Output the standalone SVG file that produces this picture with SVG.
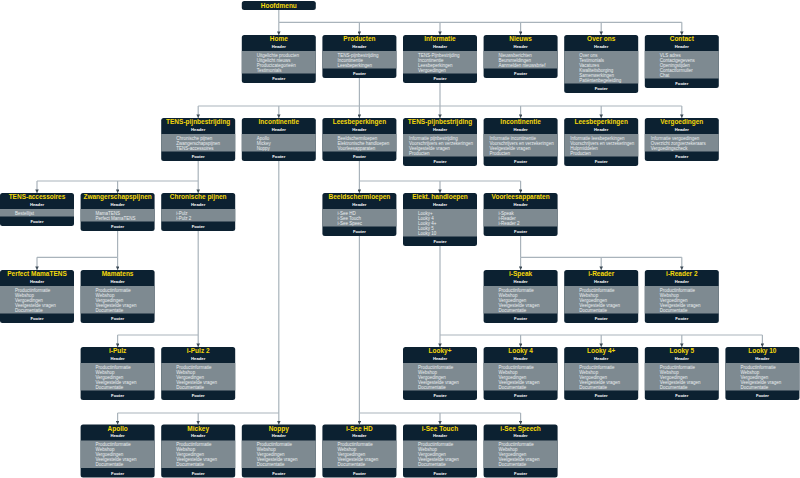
<svg xmlns="http://www.w3.org/2000/svg" width="800" height="478" viewBox="0 0 800 478">
<defs>
<marker id="ar" viewBox="0 0 6 6" refX="6" refY="3" markerWidth="3.6" markerHeight="3.6" orient="auto" markerUnits="userSpaceOnUse"><path d="M0,0 L6,3 L0,6 z" fill="#3d4b57"/></marker>
<style>
.hd{fill:#0c2131}
.bd{fill:#7e8a91}
.bl{stroke:#a3aeb4;stroke-width:0.6}
.t{font-family:"Liberation Sans",Arial,sans-serif;font-weight:bold;font-size:6.5px;fill:#f5d90a;text-anchor:middle}
.h{font-family:"Liberation Sans",Arial,sans-serif;font-weight:bold;font-size:4.2px;fill:#ffffff;text-anchor:middle}
.i{font-family:"Liberation Sans",Arial,sans-serif;font-size:4.5px;fill:#e9edef}
.c{stroke:#a9b3bb;stroke-width:1.2;fill:none}
.d{stroke:#a9b3bb;stroke-width:1.2;fill:none;marker-end:url(#ar)}
</style>
</defs>
<rect width="800" height="478" fill="#ffffff"/>

<g id="connectors">
<path class="c" d="M278.8,10 V22.3 M278.8,22.3 H681.8"/>
<path class="d" d="M278.8,22.3 V35"/><path class="d" d="M359.4,22.3 V35"/><path class="d" d="M440,22.3 V35"/><path class="d" d="M520.6,22.3 V35"/><path class="d" d="M601.2,22.3 V35"/><path class="d" d="M681.8,22.3 V35"/>
<path class="c" d="M359.4,78 V106 M440,83 V106 M198.2,106 H681.8"/>
<path class="d" d="M198.2,106 V118"/><path class="d" d="M278.8,106 V118"/><path class="d" d="M359.4,106 V118"/><path class="d" d="M440,106 V118"/><path class="d" d="M520.6,106 V118"/><path class="d" d="M601.2,106 V118"/><path class="d" d="M681.8,106 V118"/>
<path class="c" d="M198.2,161 V181 M37,181 H198.2 M359.4,161 V181 M359.4,181 H520.6"/>
<path class="d" d="M37,181 V193"/><path class="d" d="M117.6,181 V193"/><path class="d" d="M198.2,181 V193"/><path class="d" d="M359.4,181 V193"/><path class="d" d="M440,181 V193"/><path class="d" d="M520.6,181 V193"/>
<path class="c" d="M117.6,231 V257.3 M37,257.3 H117.6 M520.6,236 V257.3 M520.6,257.3 H681.8"/>
<path class="d" d="M37,257.3 V270"/><path class="d" d="M117.6,257.3 V270"/><path class="d" d="M520.6,257.3 V270"/><path class="d" d="M601.2,257.3 V270"/><path class="d" d="M681.8,257.3 V270"/>
<path class="c" d="M198.2,231 V335 M117.6,335 H198.2 M440,246 V335 M440,335 H762.4"/>
<path class="d" d="M117.6,335 V347"/><path class="d" d="M198.2,335 V347"/><path class="d" d="M440,335 V347"/><path class="d" d="M520.6,335 V347"/><path class="d" d="M601.2,335 V347"/><path class="d" d="M681.8,335 V347"/><path class="d" d="M762.4,335 V347"/>
<path class="c" d="M278.8,161 V413 M117.6,413 H278.8 M359.4,236 V413 M359.4,413 H520.6"/>
<path class="d" d="M117.6,413 V424.5"/><path class="d" d="M198.2,413 V424.5"/><path class="d" d="M278.8,413 V424.5"/><path class="d" d="M359.4,413 V424.5"/><path class="d" d="M440,413 V424.5"/><path class="d" d="M520.6,413 V424.5"/>
</g>

<g id="hoofdmenu" transform="translate(241.8,1)"><rect class="hd" width="74" height="9" rx="2.5"/><text class="t" x="37" y="6.9">Hoofdmenu</text></g>

<g id="home" transform="translate(241.8,35)"><rect class="hd" width="74" height="48" rx="2.5"/><rect class="bd" y="16" width="74" height="22.5"/><text class="t" x="37" y="6.4">Home</text><text class="h" x="37" y="12.5">Header</text><text class="i" x="15" y="21.5">Uitgelichte producten</text><text class="i" x="15" y="26.5">Uitgelicht nieuws</text><text class="i" x="15" y="31.5">Productcategorieën</text><text class="i" x="15" y="36.5">Testimonials</text><text class="h" x="37" y="45">Footer</text></g>

<g id="producten" transform="translate(322.4,35)"><rect class="hd" width="74" height="43" rx="2.5"/><rect class="bd" y="16" width="74" height="17.5"/><text class="t" x="37" y="6.4">Producten</text><text class="h" x="37" y="12.5">Header</text><text class="i" x="15" y="21.5">TENS-pijnbestrijding</text><text class="i" x="15" y="26.5">Incontinentie</text><text class="i" x="15" y="31.5">Leesbeperkingen</text><text class="h" x="37" y="40">Footer</text></g>

<g id="informatie" transform="translate(403,35)"><rect class="hd" width="74" height="48" rx="2.5"/><rect class="bd" y="16" width="74" height="22.5"/><text class="t" x="37" y="6.4">Informatie</text><text class="h" x="37" y="12.5">Header</text><text class="i" x="15" y="21.5">TENS-Pijnbestrijding</text><text class="i" x="15" y="26.5">Incontinentie</text><text class="i" x="15" y="31.5">Leesbeperkingen</text><text class="i" x="15" y="36.5">Vergoedingen</text><text class="h" x="37" y="45">Footer</text></g>

<g id="nieuws" transform="translate(483.6,35)"><rect class="hd" width="74" height="43" rx="2.5"/><rect class="bd" y="16" width="74" height="17.5"/><text class="t" x="37" y="6.4">Nieuws</text><text class="h" x="37" y="12.5">Header</text><text class="i" x="15" y="21.5">Nieuwsberichten</text><text class="i" x="15" y="26.5">Beursmeldingen</text><text class="i" x="15" y="31.5">Aanmelden nieuwsbrief</text><text class="h" x="37" y="40">Footer</text></g>

<g id="over-ons" transform="translate(564.2,35)"><rect class="hd" width="74" height="58" rx="2.5"/><rect class="bd" y="16" width="74" height="32.5"/><text class="t" x="37" y="6.4">Over ons</text><text class="h" x="37" y="12.5">Header</text><text class="i" x="15" y="21.5">Over ons</text><text class="i" x="15" y="26.5">Testimonials</text><text class="i" x="15" y="31.5">Vacatures</text><text class="i" x="15" y="36.5">Kwaliteitsborging</text><text class="i" x="15" y="41.5">Samenwerkingen</text><text class="i" x="15" y="46.5">Patiëntenbegeleiding</text><text class="h" x="37" y="55">Footer</text></g>

<g id="contact" transform="translate(644.8,35)"><rect class="hd" width="74" height="53" rx="2.5"/><rect class="bd" y="16" width="74" height="27.5"/><text class="t" x="37" y="6.4">Contact</text><text class="h" x="37" y="12.5">Header</text><text class="i" x="15" y="21.5">VLS adres</text><text class="i" x="15" y="26.5">Contactgegevens</text><text class="i" x="15" y="31.5">Openingstijden</text><text class="i" x="15" y="36.5">Contactformulier</text><text class="i" x="15" y="41.5">Chat</text><text class="h" x="37" y="50">Footer</text></g>

<g id="tens-pijnbestrijding-1" transform="translate(161.2,118)"><rect class="hd" width="74" height="43" rx="2.5"/><rect class="bd" y="16" width="74" height="17.5"/><text class="t" x="37" y="6.4">TENS-pijnbestrijding</text><text class="h" x="37" y="12.5">Header</text><text class="i" x="15" y="21.5">Chronische pijnen</text><text class="i" x="15" y="26.5">Zwangerschapspijnen</text><text class="i" x="15" y="31.5">TENS-accessoires</text><text class="h" x="37" y="40">Footer</text></g>

<g id="incontinentie-1" transform="translate(241.8,118)"><rect class="hd" width="74" height="43" rx="2.5"/><rect class="bd" y="16" width="74" height="17.5"/><text class="t" x="37" y="6.4">Incontinentie</text><text class="h" x="37" y="12.5">Header</text><text class="i" x="15" y="21.5">Apollo</text><text class="i" x="15" y="26.5">Mickey</text><text class="i" x="15" y="31.5">Noppy</text><text class="h" x="37" y="40">Footer</text></g>

<g id="leesbeperkingen-1" transform="translate(322.4,118)"><rect class="hd" width="74" height="43" rx="2.5"/><rect class="bd" y="16" width="74" height="17.5"/><text class="t" x="37" y="6.4">Leesbeperkingen</text><text class="h" x="37" y="12.5">Header</text><text class="i" x="15" y="21.5">Beeldschermloepen</text><text class="i" x="15" y="26.5">Elektronische handloepen</text><text class="i" x="15" y="31.5">Voorleesapparaten</text><text class="h" x="37" y="40">Footer</text></g>

<g id="tens-pijnbestrijding-2" transform="translate(403,118)"><rect class="hd" width="74" height="48" rx="2.5"/><rect class="bd" y="16" width="74" height="22.5"/><text class="t" x="37" y="6.4">TENS-pijnbestrijding</text><text class="h" x="37" y="12.5">Header</text><text class="i" x="6" y="21.5">Informatie pijnbestrijding</text><text class="i" x="6" y="26.5">Voorschrijvers en verzekeringen</text><text class="i" x="6" y="31.5">Veelgestelde vragen</text><text class="i" x="6" y="36.5">Producten</text><text class="h" x="37" y="45">Footer</text></g>

<g id="incontinentie-2" transform="translate(483.6,118)"><rect class="hd" width="74" height="48" rx="2.5"/><rect class="bd" y="16" width="74" height="22.5"/><text class="t" x="37" y="6.4">Incontinentie</text><text class="h" x="37" y="12.5">Header</text><text class="i" x="6" y="21.5">Informatie incontinentie</text><text class="i" x="6" y="26.5">Voorschrijvers en verzekeringen</text><text class="i" x="6" y="31.5">Veelgestelde vragen</text><text class="i" x="6" y="36.5">Producten</text><text class="h" x="37" y="45">Footer</text></g>

<g id="leesbeperkingen-2" transform="translate(564.2,118)"><rect class="hd" width="74" height="48" rx="2.5"/><rect class="bd" y="16" width="74" height="22.5"/><text class="t" x="37" y="6.4">Leesbeperkingen</text><text class="h" x="37" y="12.5">Header</text><text class="i" x="6" y="21.5">Informatie leesbeperkingen</text><text class="i" x="6" y="26.5">Voorschrijvers en verzekeringen</text><text class="i" x="6" y="31.5">Hulpmiddelen</text><text class="i" x="6" y="36.5">Producten</text><text class="h" x="37" y="45">Footer</text></g>

<g id="vergoedingen" transform="translate(644.8,118)"><rect class="hd" width="74" height="43" rx="2.5"/><rect class="bd" y="16" width="74" height="17.5"/><text class="t" x="37" y="6.4">Vergoedingen</text><text class="h" x="37" y="12.5">Header</text><text class="i" x="6" y="21.5">Informatie vergoedingen</text><text class="i" x="6" y="26.5">Overzicht zorgverzekeraars</text><text class="i" x="6" y="31.5">Vergoedingscheck</text><text class="h" x="37" y="40">Footer</text></g>

<g id="tens-accessoires" transform="translate(0,193)"><rect class="hd" width="74" height="33" rx="2.5"/><rect class="bd" y="16" width="74" height="7.5"/><text class="t" x="37" y="6.4">TENS-accessoires</text><text class="h" x="37" y="12.5">Header</text><text class="i" x="15" y="21.5">Bestellijst</text><text class="h" x="37" y="30">Footer</text></g>

<g id="zwangerschapspijnen" transform="translate(80.6,193)"><rect class="hd" width="74" height="38" rx="2.5"/><rect class="bd" y="16" width="74" height="12.5"/><text class="t" x="37" y="6.4">Zwangerschapspijnen</text><text class="h" x="37" y="12.5">Header</text><text class="i" x="15" y="21.5">MamaTENS</text><text class="i" x="15" y="26.5">Perfect MamaTENS</text><text class="h" x="37" y="35">Footer</text></g>

<g id="chronische-pijnen" transform="translate(161.2,193)"><rect class="hd" width="74" height="38" rx="2.5"/><rect class="bd" y="16" width="74" height="12.5"/><text class="t" x="37" y="6.4">Chronische pijnen</text><text class="h" x="37" y="12.5">Header</text><text class="i" x="15" y="21.5">i-Pulz</text><text class="i" x="15" y="26.5">i-Pulz 2</text><text class="h" x="37" y="35">Footer</text></g>

<g id="beeldschermloepen" transform="translate(322.4,193)"><rect class="hd" width="74" height="43" rx="2.5"/><rect class="bd" y="16" width="74" height="17.5"/><text class="t" x="37" y="6.4">Beeldschermloepen</text><text class="h" x="37" y="12.5">Header</text><text class="i" x="15" y="21.5">i-See HD</text><text class="i" x="15" y="26.5">i-See Touch</text><text class="i" x="15" y="31.5">i-See Speec</text><text class="h" x="37" y="40">Footer</text></g>

<g id="elekt-handloepen" transform="translate(403,193)"><rect class="hd" width="74" height="53" rx="2.5"/><rect class="bd" y="16" width="74" height="27.5"/><text class="t" x="37" y="6.4">Elekt. handloepen</text><text class="h" x="37" y="12.5">Header</text><text class="i" x="15" y="21.5">Looky+</text><text class="i" x="15" y="26.5">Looky 4</text><text class="i" x="15" y="31.5">Looky 4+</text><text class="i" x="15" y="36.5">Looky 5</text><text class="i" x="15" y="41.5">Looky 10</text><text class="h" x="37" y="50">Footer</text></g>

<g id="voorleesapparaten" transform="translate(483.6,193)"><rect class="hd" width="74" height="43" rx="2.5"/><rect class="bd" y="16" width="74" height="17.5"/><text class="t" x="37" y="6.4">Voorleesapparaten</text><text class="h" x="37" y="12.5">Header</text><text class="i" x="15" y="21.5">i-Speak</text><text class="i" x="15" y="26.5">i-Reader</text><text class="i" x="15" y="31.5">i-Reader 2</text><text class="h" x="37" y="40">Footer</text></g>

<g id="perfect-mamatens" transform="translate(0,270)"><rect class="hd" width="74" height="53" rx="2.5"/><rect class="bd" y="16" width="74" height="27.5"/><text class="t" x="37" y="6.4">Perfect MamaTENS</text><text class="h" x="37" y="12.5">Header</text><text class="i" x="15" y="21.5">Productinformatie</text><text class="i" x="15" y="26.5">Webshop</text><text class="i" x="15" y="31.5">Vergoedingen</text><text class="i" x="15" y="36.5">Veelgestelde vragen</text><text class="i" x="15" y="41.5">Documentatie</text><text class="h" x="37" y="50">Footer</text></g>

<g id="mamatens" transform="translate(80.6,270)"><rect class="hd" width="74" height="53" rx="2.5"/><rect class="bd" y="16" width="74" height="27.5"/><text class="t" x="37" y="6.4">Mamatens</text><text class="h" x="37" y="12.5">Header</text><text class="i" x="15" y="21.5">Productinformatie</text><text class="i" x="15" y="26.5">Webshop</text><text class="i" x="15" y="31.5">Vergoedingen</text><text class="i" x="15" y="36.5">Veelgestelde vragen</text><text class="i" x="15" y="41.5">Documentatie</text><text class="h" x="37" y="50">Footer</text></g>

<g id="i-speak" transform="translate(483.6,270)"><rect class="hd" width="74" height="53" rx="2.5"/><rect class="bd" y="16" width="74" height="27.5"/><text class="t" x="37" y="6.4">i-Speak</text><text class="h" x="37" y="12.5">Header</text><text class="i" x="15" y="21.5">Productinformatie</text><text class="i" x="15" y="26.5">Webshop</text><text class="i" x="15" y="31.5">Vergoedingen</text><text class="i" x="15" y="36.5">Veelgestelde vragen</text><text class="i" x="15" y="41.5">Documentatie</text><text class="h" x="37" y="50">Footer</text></g>

<g id="i-reader" transform="translate(564.2,270)"><rect class="hd" width="74" height="53" rx="2.5"/><rect class="bd" y="16" width="74" height="27.5"/><text class="t" x="37" y="6.4">i-Reader</text><text class="h" x="37" y="12.5">Header</text><text class="i" x="15" y="21.5">Productinformatie</text><text class="i" x="15" y="26.5">Webshop</text><text class="i" x="15" y="31.5">Vergoedingen</text><text class="i" x="15" y="36.5">Veelgestelde vragen</text><text class="i" x="15" y="41.5">Documentatie</text><text class="h" x="37" y="50">Footer</text></g>

<g id="i-reader-2" transform="translate(644.8,270)"><rect class="hd" width="74" height="53" rx="2.5"/><rect class="bd" y="16" width="74" height="27.5"/><text class="t" x="37" y="6.4">i-Reader 2</text><text class="h" x="37" y="12.5">Header</text><text class="i" x="15" y="21.5">Productinformatie</text><text class="i" x="15" y="26.5">Webshop</text><text class="i" x="15" y="31.5">Vergoedingen</text><text class="i" x="15" y="36.5">Veelgestelde vragen</text><text class="i" x="15" y="41.5">Documentatie</text><text class="h" x="37" y="50">Footer</text></g>

<g id="i-pulz" transform="translate(80.6,347)"><rect class="hd" width="74" height="53" rx="2.5"/><rect class="bd" y="16" width="74" height="27.5"/><text class="t" x="37" y="6.4">i-Pulz</text><text class="h" x="37" y="12.5">Header</text><text class="i" x="15" y="21.5">Productinformatie</text><text class="i" x="15" y="26.5">Webshop</text><text class="i" x="15" y="31.5">Vergoedingen</text><text class="i" x="15" y="36.5">Veelgestelde vragen</text><text class="i" x="15" y="41.5">Documentatie</text><text class="h" x="37" y="50">Footer</text></g>

<g id="i-pulz-2" transform="translate(161.2,347)"><rect class="hd" width="74" height="53" rx="2.5"/><rect class="bd" y="16" width="74" height="27.5"/><text class="t" x="37" y="6.4">i-Pulz 2</text><text class="h" x="37" y="12.5">Header</text><text class="i" x="15" y="21.5">Productinformatie</text><text class="i" x="15" y="26.5">Webshop</text><text class="i" x="15" y="31.5">Vergoedingen</text><text class="i" x="15" y="36.5">Veelgestelde vragen</text><text class="i" x="15" y="41.5">Documentatie</text><text class="h" x="37" y="50">Footer</text></g>

<g id="looky-plus" transform="translate(403,347)"><rect class="hd" width="74" height="53" rx="2.5"/><rect class="bd" y="16" width="74" height="27.5"/><text class="t" x="37" y="6.4">Looky+</text><text class="h" x="37" y="12.5">Header</text><text class="i" x="15" y="21.5">Productinformatie</text><text class="i" x="15" y="26.5">Webshop</text><text class="i" x="15" y="31.5">Vergoedingen</text><text class="i" x="15" y="36.5">Veelgestelde vragen</text><text class="i" x="15" y="41.5">Documentatie</text><text class="h" x="37" y="50">Footer</text></g>

<g id="looky-4" transform="translate(483.6,347)"><rect class="hd" width="74" height="53" rx="2.5"/><rect class="bd" y="16" width="74" height="27.5"/><text class="t" x="37" y="6.4">Looky 4</text><text class="h" x="37" y="12.5">Header</text><text class="i" x="15" y="21.5">Productinformatie</text><text class="i" x="15" y="26.5">Webshop</text><text class="i" x="15" y="31.5">Vergoedingen</text><text class="i" x="15" y="36.5">Veelgestelde vragen</text><text class="i" x="15" y="41.5">Documentatie</text><text class="h" x="37" y="50">Footer</text></g>

<g id="looky-4-plus" transform="translate(564.2,347)"><rect class="hd" width="74" height="53" rx="2.5"/><rect class="bd" y="16" width="74" height="27.5"/><text class="t" x="37" y="6.4">Looky 4+</text><text class="h" x="37" y="12.5">Header</text><text class="i" x="15" y="21.5">Productinformatie</text><text class="i" x="15" y="26.5">Webshop</text><text class="i" x="15" y="31.5">Vergoedingen</text><text class="i" x="15" y="36.5">Veelgestelde vragen</text><text class="i" x="15" y="41.5">Documentatie</text><text class="h" x="37" y="50">Footer</text></g>

<g id="looky-5" transform="translate(644.8,347)"><rect class="hd" width="74" height="53" rx="2.5"/><rect class="bd" y="16" width="74" height="27.5"/><text class="t" x="37" y="6.4">Looky 5</text><text class="h" x="37" y="12.5">Header</text><text class="i" x="15" y="21.5">Productinformatie</text><text class="i" x="15" y="26.5">Webshop</text><text class="i" x="15" y="31.5">Vergoedingen</text><text class="i" x="15" y="36.5">Veelgestelde vragen</text><text class="i" x="15" y="41.5">Documentatie</text><text class="h" x="37" y="50">Footer</text></g>

<g id="looky-10" transform="translate(725.4,347)"><rect class="hd" width="74" height="53" rx="2.5"/><rect class="bd" y="16" width="74" height="27.5"/><text class="t" x="37" y="6.4">Looky 10</text><text class="h" x="37" y="12.5">Header</text><text class="i" x="15" y="21.5">Productinformatie</text><text class="i" x="15" y="26.5">Webshop</text><text class="i" x="15" y="31.5">Vergoedingen</text><text class="i" x="15" y="36.5">Veelgestelde vragen</text><text class="i" x="15" y="41.5">Documentatie</text><text class="h" x="37" y="50">Footer</text></g>

<g id="apollo" transform="translate(80.6,424.5)"><rect class="hd" width="74" height="53" rx="2.5"/><rect class="bd" y="16" width="74" height="27.5"/><text class="t" x="37" y="6.4">Apollo</text><text class="h" x="37" y="12.5">Header</text><text class="i" x="15" y="21.5">Productinformatie</text><text class="i" x="15" y="26.5">Webshop</text><text class="i" x="15" y="31.5">Vergoedingen</text><text class="i" x="15" y="36.5">Veelgestelde vragen</text><text class="i" x="15" y="41.5">Documentatie</text><text class="h" x="37" y="50">Footer</text></g>

<g id="mickey" transform="translate(161.2,424.5)"><rect class="hd" width="74" height="53" rx="2.5"/><rect class="bd" y="16" width="74" height="27.5"/><text class="t" x="37" y="6.4">Mickey</text><text class="h" x="37" y="12.5">Header</text><text class="i" x="15" y="21.5">Productinformatie</text><text class="i" x="15" y="26.5">Webshop</text><text class="i" x="15" y="31.5">Vergoedingen</text><text class="i" x="15" y="36.5">Veelgestelde vragen</text><text class="i" x="15" y="41.5">Documentatie</text><text class="h" x="37" y="50">Footer</text></g>

<g id="noppy" transform="translate(241.8,424.5)"><rect class="hd" width="74" height="53" rx="2.5"/><rect class="bd" y="16" width="74" height="27.5"/><text class="t" x="37" y="6.4">Noppy</text><text class="h" x="37" y="12.5">Header</text><text class="i" x="15" y="21.5">Productinformatie</text><text class="i" x="15" y="26.5">Webshop</text><text class="i" x="15" y="31.5">Vergoedingen</text><text class="i" x="15" y="36.5">Veelgestelde vragen</text><text class="i" x="15" y="41.5">Documentatie</text><text class="h" x="37" y="50">Footer</text></g>

<g id="i-see-hd" transform="translate(322.4,424.5)"><rect class="hd" width="74" height="53" rx="2.5"/><rect class="bd" y="16" width="74" height="27.5"/><text class="t" x="37" y="6.4">i-See HD</text><text class="h" x="37" y="12.5">Header</text><text class="i" x="15" y="21.5">Productinformatie</text><text class="i" x="15" y="26.5">Webshop</text><text class="i" x="15" y="31.5">Vergoedingen</text><text class="i" x="15" y="36.5">Veelgestelde vragen</text><text class="i" x="15" y="41.5">Documentatie</text><text class="h" x="37" y="50">Footer</text></g>

<g id="i-see-touch" transform="translate(403,424.5)"><rect class="hd" width="74" height="53" rx="2.5"/><rect class="bd" y="16" width="74" height="27.5"/><text class="t" x="37" y="6.4">i-See Touch</text><text class="h" x="37" y="12.5">Header</text><text class="i" x="15" y="21.5">Productinformatie</text><text class="i" x="15" y="26.5">Webshop</text><text class="i" x="15" y="31.5">Vergoedingen</text><text class="i" x="15" y="36.5">Veelgestelde vragen</text><text class="i" x="15" y="41.5">Documentatie</text><text class="h" x="37" y="50">Footer</text></g>

<g id="i-see-speech" transform="translate(483.6,424.5)"><rect class="hd" width="74" height="53" rx="2.5"/><rect class="bd" y="16" width="74" height="27.5"/><text class="t" x="37" y="6.4">i-See Speech</text><text class="h" x="37" y="12.5">Header</text><text class="i" x="15" y="21.5">Productinformatie</text><text class="i" x="15" y="26.5">Webshop</text><text class="i" x="15" y="31.5">Vergoedingen</text><text class="i" x="15" y="36.5">Veelgestelde vragen</text><text class="i" x="15" y="41.5">Documentatie</text><text class="h" x="37" y="50">Footer</text></g>
</svg>
